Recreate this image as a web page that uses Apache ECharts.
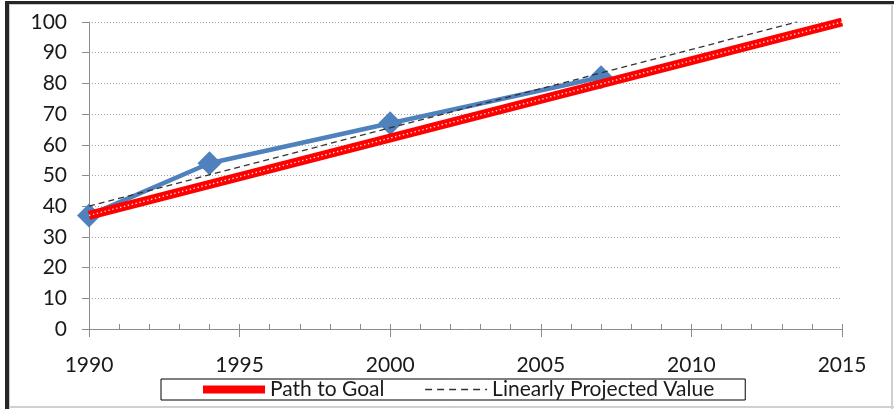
<!DOCTYPE html>
<html>
<head>
<meta charset="utf-8">
<script src="https://cdn.jsdelivr.net/npm/echarts@6/dist/echarts.min.js"></script>
<style>
  html, body { margin: 0; padding: 0; background: #fff; }
  #chart { width: 894px; height: 409px; }
</style>
</head>
<body>
<div id="chart"></div>
<script>
// Observed values by year
const observedYears = [1990, 1994, 2000, 2007];
const observedValues = [37, 54, 67, 82];

// Path to goal: straight path from the 1990 level to 100 in 2015
const goalYears = [1990, 2015];
const goalValues = [37, 100];

// Linear projection of the observed values (ends where it reaches 100)
const projYears = [1990, 2013.5];
const projValues = [40, 100];

const xMin = 1990, xMax = 2015, xStep = 5;
const yMin = 0, yMax = 100, yStep = 10;

const zip = (xs, ys) => xs.map((x, i) => [x, ys[i]]);

const FONT = 'Lato';
const TEXT = '#1a1a1a';
const chart = echarts.init(document.getElementById('chart'), null, { renderer: 'canvas' });

chart.setOption({
  animation: false,
  backgroundColor: '#ffffff',
  grid: { left: 89, right: 52, top: 22, bottom: 80, containLabel: false },
  xAxis: [
    {
      type: 'value', min: xMin, max: xMax, interval: xStep, position: 'bottom',
      axisLine: { show: true, lineStyle: { color: '#8c8c8c', width: 1 } },
      axisTick: { show: true, inside: false, length: 8, lineStyle: { color: '#8c8c8c' } },
      axisLabel: { margin: 26, fontFamily: FONT, fontSize: 21, color: TEXT, formatter: v => String(v) },
      splitLine: { show: false }
    },
    {
      type: 'value', min: xMin, max: xMax, interval: 1, position: 'bottom',
      axisLine: { show: false },
      axisTick: { show: true, inside: true, length: 5, lineStyle: { color: '#8c8c8c' } },
      axisLabel: { show: false },
      splitLine: { show: false }
    }
  ],
  yAxis: {
    type: 'value', min: yMin, max: yMax, interval: yStep,
    axisLine: { show: true, lineStyle: { color: '#8c8c8c', width: 1 } },
    axisTick: { show: true, inside: false, length: 7, lineStyle: { color: '#8c8c8c' } },
    axisLabel: { margin: 22, fontFamily: FONT, fontSize: 21, color: TEXT },
    splitLine: { show: true, lineStyle: { color: '#a6a6a6', width: 1, type: [1, 2] } }
  },
  legend: {
    show: true,
    data: [
      { name: 'Path to Goal', itemStyle: { opacity: 0 }, lineStyle: { color: '#ff0000', width: 8 } },
      { name: 'Linearly Projected Value', itemStyle: { opacity: 0 }, lineStyle: { color: '#333333', width: 1.3, type: [7, 5] } }
    ],
    left: 161, top: 379,
    padding: [0, 31, 0, 38],
    itemGap: 40,
    itemWidth: 62, itemHeight: 14,
    borderColor: '#000', borderWidth: 1,
    textStyle: { fontFamily: FONT, fontSize: 21, color: TEXT, lineHeight: 21, padding: [0, 0, 0, 0] }
  },
  series: [
    {
      name: 'Observed', type: 'line', xAxisIndex: 0,
      data: zip(observedYears, observedValues),
      symbol: 'diamond', symbolSize: [24, 24],
      lineStyle: { color: '#4f81bd', width: 4.5 },
      itemStyle: { color: '#4f81bd' },
      z: 2
    },
    {
      name: 'Path to Goal', type: 'line', xAxisIndex: 0,
      data: zip(goalYears, goalValues),
      symbol: 'none',
      lineStyle: { color: '#ff0000', width: 9 },
      itemStyle: { color: '#ff0000' },
      z: 3
    },
    {
      name: 'Path to Goal dots', type: 'line', xAxisIndex: 0,
      data: zip(goalYears, goalValues),
      symbol: 'none', silent: true,
      lineStyle: { color: '#ffffff', width: 1.4, type: [1.4, 2.6], opacity: 0.85 },
      z: 4
    },
    {
      name: 'Linearly Projected Value', type: 'line', xAxisIndex: 0,
      data: zip(projYears, projValues),
      symbol: 'none',
      lineStyle: { color: '#333333', width: 1.3, type: [6, 4] },
      itemStyle: { color: '#333333' },
      z: 5
    }
  ],
  graphic: [
    // outer frame: dark top/left edge, light right/bottom edge
    { type: 'rect', shape: { x: 5, y: 1, width: 4, height: 408 }, style: { fill: '#262626' }, z: 100 },
    { type: 'rect', shape: { x: 5, y: 1, width: 889, height: 3 }, style: { fill: '#262626' }, z: 100 },
    { type: 'rect', shape: { x: 9, y: 4, width: 1, height: 405 }, style: { fill: '#c8c8c8' }, z: 100 },
    { type: 'rect', shape: { x: 9, y: 4, width: 885, height: 1 }, style: { fill: '#c8c8c8' }, z: 100 },
    { type: 'rect', shape: { x: 891, y: 4, width: 2, height: 405 }, style: { fill: '#d0d0d0' }, z: 100 },
    { type: 'rect', shape: { x: 9, y: 406, width: 885, height: 2 }, style: { fill: '#d0d0d0' }, z: 100 }
  ]
});
</script>
</body>
</html>
